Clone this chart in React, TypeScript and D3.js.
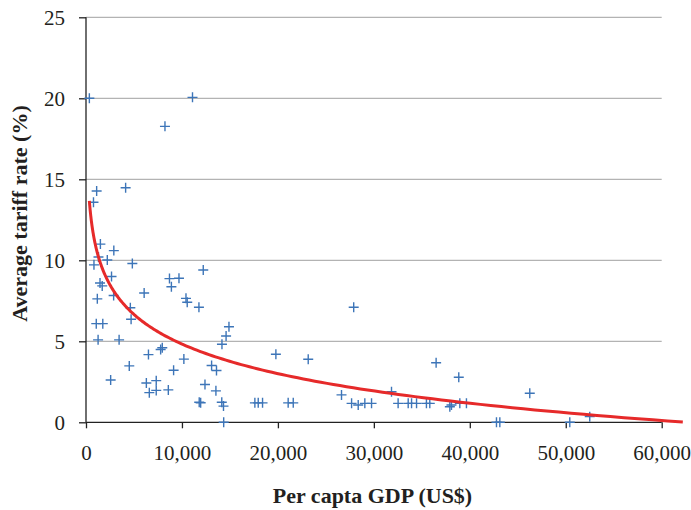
import { useRef, useEffect } from 'react';
import * as d3 from 'd3';

// per capita GDP (US$) and average tariff rate (%) for each country
const gdp = [
  350, 11100, 8230, 1110, 4130, 780, 1500, 2900, 1300, 2220,
  830, 4830, 12220, 2660, 1460, 1690, 8700, 9690, 8900, 1180,
  2880, 6060, 10420, 10550, 11770, 4620, 4700, 1070, 1750, 14900,
  14600, 14170, 1260, 3450, 7950, 7780, 6510, 10200, 4510, 13090,
  13600, 9130, 2570, 6290, 7320, 12400, 6600, 7320, 8580, 13540,
  11800, 11950, 14150, 14330, 14350, 27900, 19790, 23160, 26630, 31840,
  17600, 17950, 18400, 21070, 21600, 27680, 28370, 29060, 29760, 32530,
  33580, 33930, 34450, 35480, 35830, 37920, 38090, 38960, 39650, 36490,
  38850, 46250, 42780, 43130, 50420, 52500
];
const tariff = [
  20.0, 20.06, 18.27, 14.28, 14.48, 13.58, 11.0, 10.6, 10.2, 10.02,
  9.72, 9.8, 9.4, 9.0, 8.6, 8.42, 8.87, 8.89, 8.37, 7.62,
  7.83, 7.98, 7.65, 7.41, 7.1, 7.07, 6.36, 6.09, 6.09, 5.9,
  5.33, 4.82, 5.09, 5.09, 4.6, 4.49, 4.18, 3.9, 3.48, 3.51,
  3.2, 3.21, 2.61, 2.43, 2.57, 2.33, 1.83, 1.97, 2.0, 1.94,
  1.24, 1.21, 1.24, 1.0, 0.0, 7.1, 4.2, 3.89, 1.69, 1.89,
  1.2, 1.2, 1.2, 1.2, 1.2, 1.17, 1.07, 1.17, 1.17, 1.17,
  1.17, 1.17, 1.17, 1.17, 1.17, 0.96, 1.07, 1.17, 1.17, 3.68,
  2.78, 1.79, 0.0, 0.0, 0.0, 0.35
];

const xTicks = [0, 10000, 20000, 30000, 40000, 50000, 60000];
const yTicks = [0, 5, 10, 15, 20, 25];

// logarithmic trend line y = a - b ln(x), as drawn in the original
const trendA = 29.1;
const trendB = 2.635;
const trendRange = [350, 62200];

function App() {
  const ref = useRef(null);

  useEffect(() => {
    const container = ref.current;
    if (!container) return;
    container.innerHTML = '';

    const width = 691;
    const height = 510;
    const margin = { top: 17.3, left: 86, right: 29.3, bottom: 87.7 };
    const font = 'Liberation Serif';

    const svg = d3.select(container)
      .append('svg')
      .attr('width', width)
      .attr('height', height)
      .attr('font-family', font)
      .style('position', 'absolute')
      .style('left', 0)
      .style('top', 0)
      .style('background', '#fff');

    const x = d3.scaleLinear().domain([0, 60000]).range([margin.left, width - margin.right]);
    const y = d3.scaleLinear().domain([0, 25]).range([height - margin.bottom, margin.top]);

    // gridlines
    svg.append('g')
      .selectAll('line')
      .data(yTicks.filter(d => d > 0))
      .enter()
      .append('line')
      .attr('x1', x(0))
      .attr('x2', x(60000))
      .attr('y1', d => y(d))
      .attr('y2', d => y(d))
      .attr('stroke', '#b3b3b3')
      .attr('stroke-width', 1.3);

    // axes
    const yAxis = svg.append('g')
      .attr('transform', `translate(${x(0)},0)`)
      .call(d3.axisLeft(y).tickValues(yTicks).tickSize(7).tickPadding(14).tickFormat(d3.format('d')));
    const xAxis = svg.append('g')
      .attr('transform', `translate(0,${y(0)})`)
      .call(d3.axisBottom(x).tickValues(xTicks).tickSize(6).tickPadding(20).tickFormat(d3.format(',')));

    [xAxis, yAxis].forEach(g => {
      g.attr('font-family', font).attr('font-size', 21);
      g.select('.domain').attr('stroke', '#222').attr('stroke-width', 1.3);
      g.selectAll('.tick line').attr('stroke', '#222').attr('stroke-width', 1.3);
      g.selectAll('.tick text').attr('fill', '#231f20');
    });
    yAxis.select('.domain').attr('d', `M0,${y(0)}V${y(25)}`);
    yAxis.selectAll('.tick text').attr('dy', '0.34em');
    xAxis.select('.domain').attr('d', `M${x(0)},0H${x(60000)}`);
    xAxis.selectAll('.tick text').attr('dy', '0.55em');

    // scatter markers
    const pts = gdp.map((g, i) => ({ g, t: tariff[i] }));
    const s = 5;
    svg.append('g')
      .selectAll('path')
      .data(pts)
      .enter()
      .append('path')
      .attr('d', d => `M${x(d.g) - s},${y(d.t)}h${2 * s}M${x(d.g)},${y(d.t) - s}v${2 * s}`)
      .attr('stroke', '#3d75b8')
      .attr('stroke-width', 1.4)
      .attr('fill', 'none');

    // trend line
    const trendX = d3.range(0, 201).map(i =>
      trendRange[0] * Math.pow(trendRange[1] / trendRange[0], i / 200));
    svg.append('path')
      .datum(trendX)
      .attr('d', d3.line().x(d => x(d)).y(d => y(trendA - trendB * Math.log(d))))
      .attr('fill', 'none')
      .attr('stroke', '#e62a2a')
      .attr('stroke-width', 3);

    // axis titles
    svg.append('text')
      .attr('x', 372.5)
      .attr('y', 503)
      .attr('text-anchor', 'middle')
      .attr('fill', '#231f20')
      .attr('font-weight', 'bold')
      .attr('font-size', 22)
      .text('Per capta GDP (US$)');

    svg.append('text')
      .attr('transform', 'translate(26.5,213.5) rotate(-90)')
      .attr('text-anchor', 'middle')
      .attr('fill', '#231f20')
      .attr('font-weight', 'bold')
      .attr('font-size', 22)
      .text('Average tariff rate (%)');
  }, []);

  return <div ref={ref}></div>;
}

export default App;
